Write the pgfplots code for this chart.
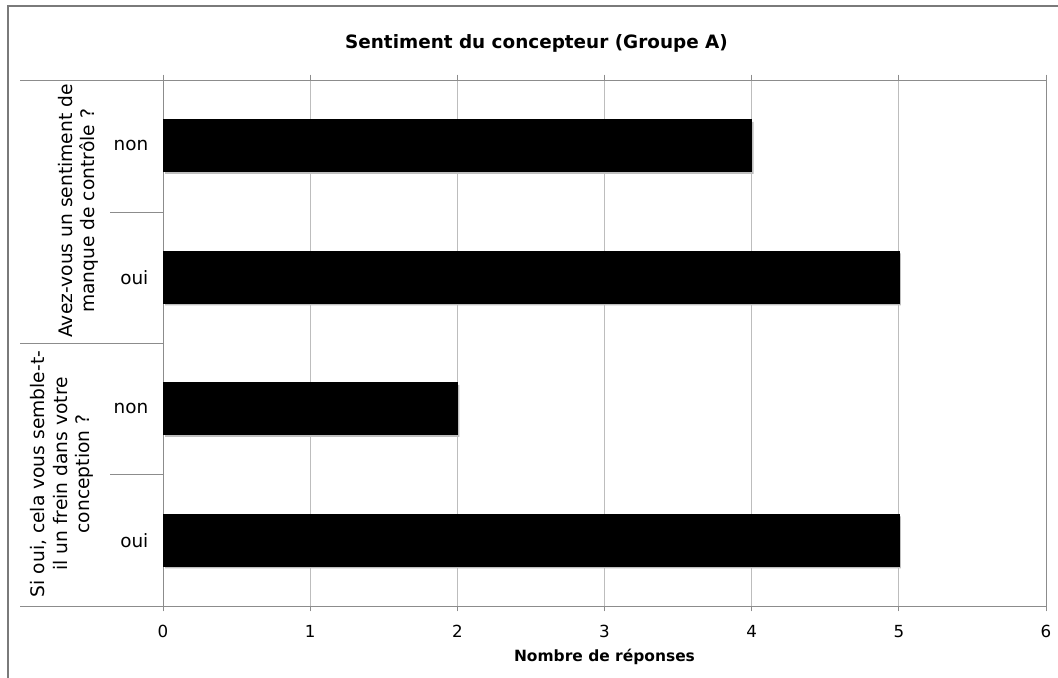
\documentclass[border=0pt]{standalone}
\usepackage{fontspec}
\setmainfont{DejaVu Sans}
\usepackage{pgfplots}
\pgfplotsset{compat=1.18}
\usetikzlibrary{shadows}
\definecolor{gridgray}{HTML}{BDBDBD}
\definecolor{axisgray}{HTML}{8C8C8C}
\definecolor{framegray}{HTML}{7A7A7A}

\begin{document}
\begin{tikzpicture}
  % pixel scope: 1px = 0.75pt, y downwards
  \begin{scope}[x=0.75pt,y=-0.75pt]
    \useasboundingbox (0,0) rectangle (1058,678);
    \draw[framegray, line width=0.8pt] (8,678) -- (8,6) -- (1058,6);
    % category separators at the left
    \draw[axisgray, line width=0.7pt] (20,80) -- (163,80);
    \draw[axisgray, line width=0.7pt] (20,343) -- (163,343);
    \draw[axisgray, line width=0.7pt] (20,606) -- (163,606);
    \draw[axisgray, line width=0.7pt] (110,212) -- (163,212);
    \draw[axisgray, line width=0.7pt] (110,474) -- (163,474);
    % group labels
    \node[rotate=90, align=center, font=\fontsize{14}{16.5}\selectfont]
      at (78,211) {Avez-vous un sentiment de\\manque de contrôle ?};
    \node[rotate=90, align=center, font=\fontsize{14}{17}\selectfont]
      at (62,474) {Si oui, cela vous semble-t-\\il un frein dans votre\\conception ?};
  \end{scope}

  \begin{axis}[
      at={(122.25pt,-454.5pt)}, anchor=south west,
      scale only axis,
      width=662.25pt, height=394.5pt,
      xbar, bar width=39pt,
      xmin=0, xmax=6, ymin=0.5, ymax=4.5,
      xtick={0,1,2,3,4,5,6},
      ytick={1,2,3,4},
      yticklabels={oui,non,oui,non},
      ytick style={draw=none},
      tick align=outside,
      major tick length=4pt,
      xtick style={axisgray, line width=0.7pt},
      xmajorgrids,
      grid style={gridgray, line width=0.7pt},
      axis line style={axisgray, line width=0.7pt},
      /pgf/number format/assume math mode=true,
      xticklabel style={font=\fontsize{12.5}{14}\selectfont, yshift=-7pt},
      yticklabel style={font=\fontsize{13.8}{16}\selectfont, xshift=-3.5pt},
      title={Sentiment du concepteur (Groupe A)},
      title style={font=\bfseries\fontsize{13.8}{16}\selectfont, at={(0.5,1)}, anchor=center, yshift=21.5pt, xshift=-51pt},
      xlabel={Nombre de réponses},
      xlabel style={font=\bfseries\fontsize{11.6}{14}\selectfont, at={(0.5,0)}, anchor=center, yshift=-38pt},
    ]
    \addplot[draw=black, fill=black,
      drop shadow={shadow xshift=1.5pt, shadow yshift=-1.5pt, fill=black!25, draw=none, opacity=1}]
      coordinates {(5,1) (2,2) (5,3) (4,4)};
  \end{axis}
\end{tikzpicture}
\end{document}
